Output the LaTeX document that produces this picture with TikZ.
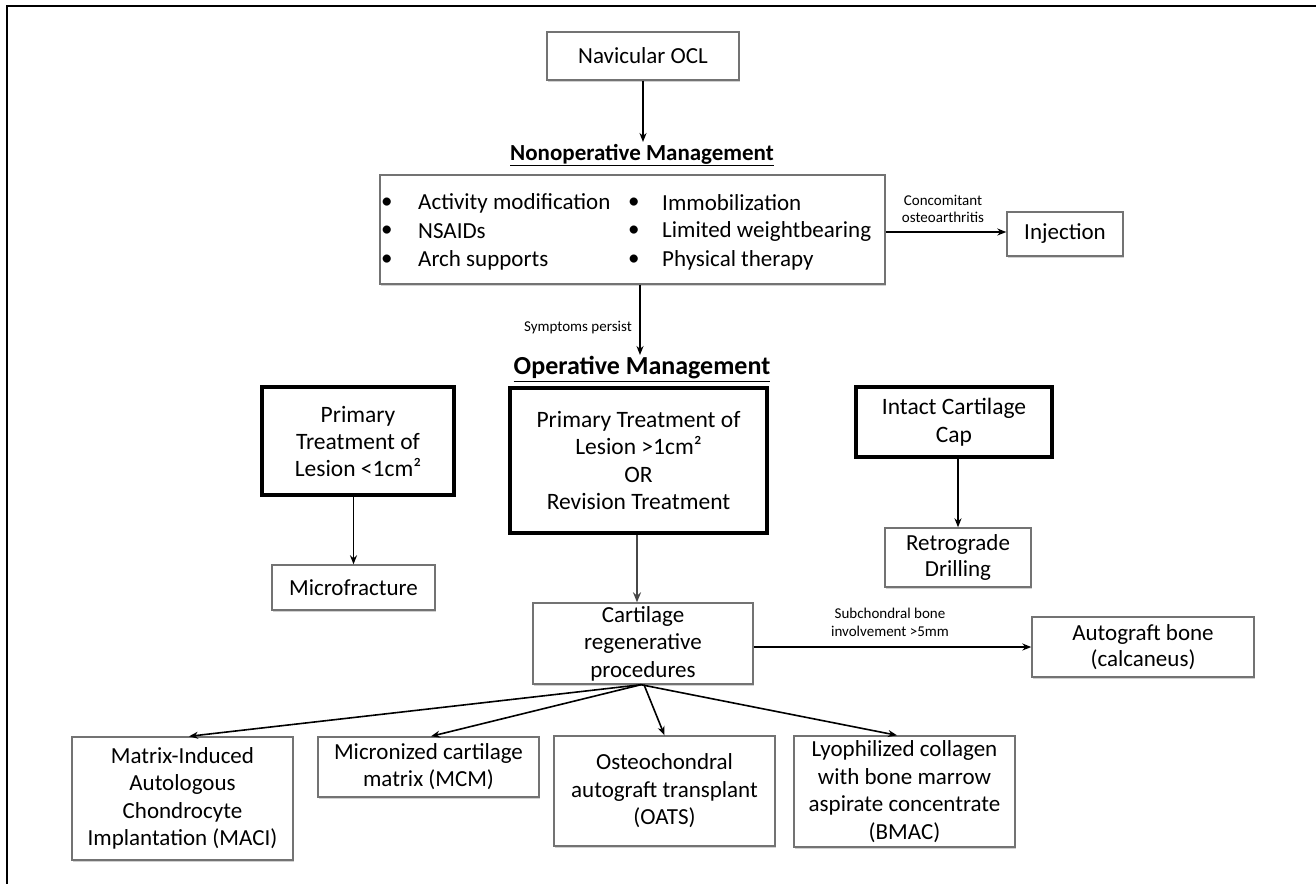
\documentclass[tikz,border=0pt]{standalone}
\usepackage{fontspec}
\setmainfont{Carlito}
\usetikzlibrary{arrows.meta,shadows}
\tikzset{
  box/.style={draw=black!55, line width=1.4pt, fill=white, align=center, inner sep=0pt,
    font=\fontsize{23}{27.5}\selectfont,
    drop shadow={shadow xshift=1.2pt, shadow yshift=-1.5pt, fill=black!30, opacity=0.6}},
  thickbox/.style={draw=black, line width=3.3pt, fill=white, align=center, inner sep=0pt,
    font=\fontsize{23.5}{27.5}\selectfont},
  arr/.style={line width=1.6pt, -{Stealth[length=9pt,width=7pt]}},
  bigarr/.style={line width=2.8pt, draw=black!72, -{Stealth[length=10pt,width=8pt]}},
  lbl/.style={font=\fontsize{15}{17.5}\selectfont, align=center, inner sep=0pt},
  head/.style={font=\bfseries\fontsize{23}{26}\selectfont, inner sep=0pt},
  item/.style={font=\fontsize{23}{26}\selectfont, anchor=west, inner sep=0pt},
}
\begin{document}
\begin{tikzpicture}[x=1pt,y=-1pt]
\useasboundingbox (0,0) rectangle (1316,884);
% frame
\draw[line width=1.5pt] (1316,6) -- (7,6) -- (7,884);

\node[box, minimum width=192, minimum height=48] (nav) at (643,56) {Navicular OCL};
\node[head] (nonhead) at (642,155) {\underline{Nonoperative Management}};
\node[box, minimum width=505, minimum height=109] (nonop) at (632.5,229.5) {};
\foreach \y/\a/\b [count=\i] in {203/Activity modification/Immobilization,
   231.5/NSAIDs/Limited weightbearing, 260/Arch supports/Physical therapy}{
  \node[item] (la\i) at (381,\y) {\textbullet};
  \node[item] (ta\i) at (418,\y) {\a};
  \node[item] (lb\i) at (628,\y) {\textbullet};
  \node[item] (tb\i) at (662,\y) {\b};
}
\node[box, minimum width=116, minimum height=44] (inj) at (1065,234) {Injection};
\node[lbl] (conc) at (943,209) {Concomitant\\osteoarthritis};
\coordinate (navend) at (643,142);

\node[head, font=\bfseries\fontsize{26}{28}\selectfont] (ophead) at (642,369) {\underline{Operative Management}};
\node[lbl, anchor=east] (symp) at (632,328) {Symptoms persist};
\coordinate (sympend) at (640,355);

\node[thickbox, minimum width=192, minimum height=108, font=\fontsize{23.5}{27}\selectfont] (prim) at (358,441) {Primary\\Treatment of\\Lesion <1cm²};
\node[thickbox, minimum width=257, minimum height=145] (rev) at (638.5,460.5) {Primary Treatment of\\Lesion >1cm²\\OR\\Revision Treatment};
\node[thickbox, minimum width=196, minimum height=70, font=\fontsize{23.5}{28}\selectfont] (cap) at (954,422) {Intact Cartilage\\Cap};
\node[box, minimum width=146, minimum height=59, font=\fontsize{23}{26.5}\selectfont] (retro) at (958,557.5) {Retrograde\\Drilling};
\node[box, minimum width=163, minimum height=45] (micro) at (353.5,587.5) {Microfracture};
\node[box, minimum width=220, minimum height=81, font=\fontsize{23}{27.5}\selectfont] (cart) at (643,643.5) {Cartilage\\regenerative\\procedures};
\node[box, minimum width=222, minimum height=60, font=\fontsize{23}{26}\selectfont] (auto) at (1143,647) {Autograft bone\\(calcaneus)};
\node[lbl, font=\fontsize{15}{18}\selectfont] (sub) at (890,622) {Subchondral bone\\involvement >5mm};

\node[box, minimum width=221, minimum height=123] (maci) at (182.5,798.5) {Matrix-Induced\\Autologous\\Chondrocyte\\Implantation (MACI)};
\node[box, minimum width=221, minimum height=60, font=\fontsize{23}{27}\selectfont] (mcm) at (428.5,767) {Micronized cartilage\\matrix (MCM)};
\node[box, minimum width=221, minimum height=110] (oats) at (664.5,791) {Osteochondral\\autograft transplant\\(OATS)};
\node[box, minimum width=221, minimum height=111] (bmac) at (904.5,791.5) {Lyophilized collagen\\with bone marrow\\aspirate concentrate\\(BMAC)};

% connectors
\draw[arr] (nav.south) -- (navend);
\draw[arr] (nonop.east |- 0,232) -- (inj.west |- 0,232);
\draw[arr] (nonop.south -| sympend) -- (sympend);
\draw[arr] (micro.north |- prim.south) -- (micro.north);
\draw[bigarr] (rev.south -| 637,0) -- (cart.north -| 637,0);
\draw[arr] (cap.south -| retro.north) -- (retro.north);
\draw[arr] (cart.east |- auto.west) -- (auto.west);
\draw[arr] ([xshift=-2pt]cart.south) -- ([xshift=6.5pt]maci.north);
\draw[arr] ([xshift=-2pt]cart.south) -- ([xshift=2.5pt]mcm.north);
\draw[arr] ([xshift=1pt]cart.south) -- (oats.north);
\draw[arr] ([xshift=-2pt]cart.south) -- ([xshift=-7.5pt]bmac.north);
\end{tikzpicture}
\end{document}
